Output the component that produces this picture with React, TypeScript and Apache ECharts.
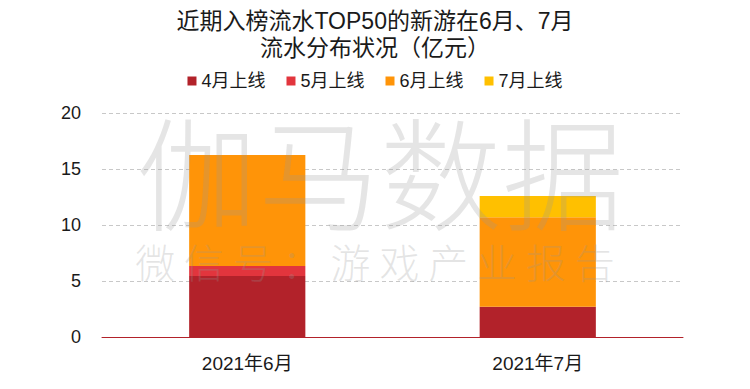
import React, { useEffect, useRef } from "react";
import * as echarts from "echarts";

const categories = ["2021年6月", "2021年7月"];
const seriesNames = ["4月上线", "5月上线", "6月上线", "7月上线"];
const launchApr = [5.45, 2.7];
const launchMay = [0.9, 0];
const launchJun = [9.9, 8.0];
const launchJul = [0, 1.9];
const colors = ["#B2222A", "#E2353D", "#FF9408", "#FFC000"];
const titleText = "近期入榜流水TOP50的新游在6月、7月\n流水分布状况（亿元）";
const watermarkBig = "伽马数据";
const watermarkSmall = "微 信 号 ： 游 戏 产 业 报 告";

const FONT = "'Liberation Sans', Arial, 'Noto Sans CJK SC', sans-serif";
const CJK = "'Noto Sans CJK SC', 'Liberation Sans', sans-serif";

export default function App() {
  const ref = useRef<HTMLDivElement>(null);
  useEffect(() => {
    document.body.style.margin = "0";
    if (!ref.current) return;
    const chart = echarts.init(ref.current, undefined, { renderer: "svg" });
    const values = [launchApr, launchMay, launchJun, launchJul];
    const wmColor = "rgba(150,150,150,0.25)";
    chart.setOption({
      animation: false,
      title: {
        text: titleText,
        left: "center",
        top: 7,
        padding: 0,
        textStyle: {
          fontSize: 23,
          lineHeight: 27,
          fontWeight: "normal",
          color: "#1a1a1a",
          fontFamily: FONT,
        },
      },
      legend: {
        data: seriesNames,
        top: 67,
        left: "center",
        icon: "rect",
        itemWidth: 9,
        itemHeight: 9,
        itemGap: 21,
        textStyle: { fontSize: 18, color: "#1a1a1a", fontFamily: FONT },
      },
      grid: { left: 102, right: 67, top: 113, bottom: 52 },
      xAxis: {
        type: "category",
        data: categories,
        axisLine: { lineStyle: { color: "#B2222A", width: 1 } },
        axisTick: { show: false },
        axisLabel: { fontSize: 19, color: "#1a1a1a", margin: 17, fontFamily: FONT },
      },
      yAxis: {
        type: "value",
        min: 0,
        max: 20,
        interval: 5,
        axisLine: { show: false },
        axisTick: { show: false },
        axisLabel: { fontSize: 18, color: "#1a1a1a", margin: 21, fontFamily: FONT },
        splitLine: { lineStyle: { color: "#C8C8C8", type: [4, 3] } },
      },
      series: seriesNames.map((name, i) => ({
        name,
        type: "bar",
        stack: "total",
        barWidth: "40%",
        data: values[i],
        itemStyle: { color: colors[i] },
      })),
      graphic: [
        {
          type: "text",
          x: 380,
          y: 167,
          z: 100,
          silent: true,
          style: {
            text: watermarkBig,
            fontSize: 122,
            fontWeight: 300,
            fontFamily: CJK,
            fill: wmColor,
            align: "center",
            verticalAlign: "middle",
          },
        },
        {
          type: "text",
          x: 375,
          y: 261,
          z: 100,
          silent: true,
          style: {
            text: watermarkSmall,
            fontSize: 40,
            fontWeight: 300,
            fontFamily: CJK,
            fill: wmColor,
            align: "center",
            verticalAlign: "middle",
          },
        },
      ],
    });
    return () => chart.dispose();
  }, []);
  return <div ref={ref} style={{ width: 750, height: 389 }} />;
}
